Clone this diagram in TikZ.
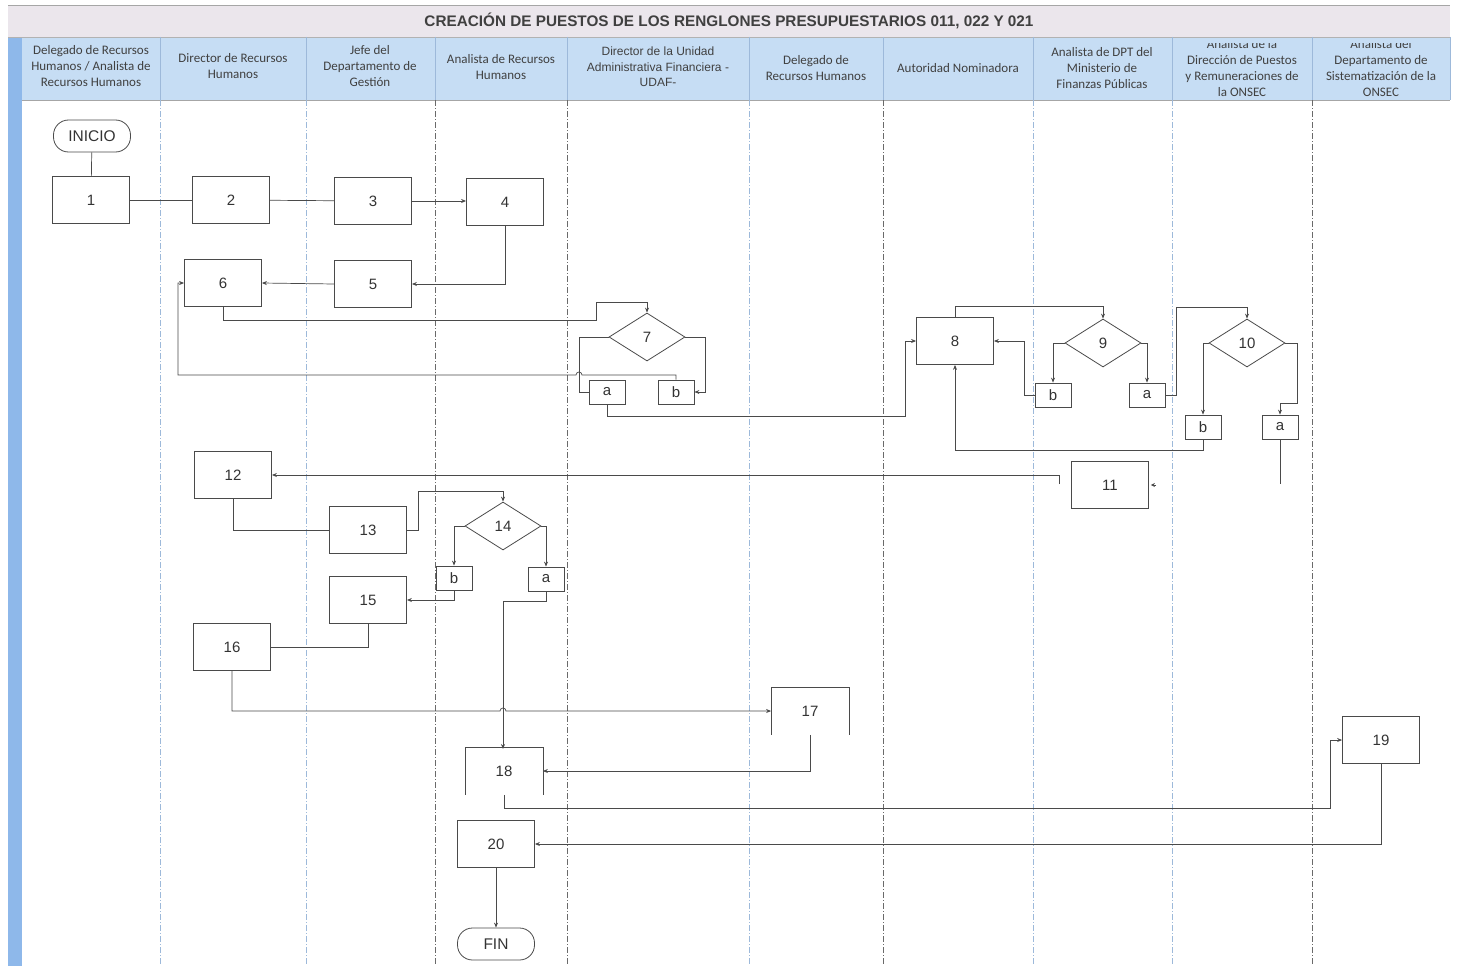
\documentclass[tikz,border=0pt]{standalone}
\usepackage{fontspec}
\setmainfont{Liberation Sans}
\newfontfamily\hdrfont{Carlito}
\usetikzlibrary{arrows.meta,shapes.geometric}
\definecolor{hdrblue}{HTML}{C6DDF4}
\definecolor{titlebg}{HTML}{EBE6EC}
\definecolor{stripe}{HTML}{8EB8EA}
\definecolor{lncol}{HTML}{4A4A4A}
\definecolor{txtcol}{HTML}{333333}
\definecolor{hdrtxt}{HTML}{404040}
\definecolor{sepblue}{HTML}{9DB9DA}
\definecolor{sepgray}{HTML}{6A6A6A}
\begin{document}
\begin{tikzpicture}[x=1pt,y=-1pt,
  proc/.style={draw=lncol, line width=0.8pt, minimum width=77pt, minimum height=47pt, inner sep=0pt, font=\fontsize{15}{17}\selectfont, text=txtcol},
  openproc/.style={proc, draw=none},
  opt/.style={draw=lncol, line width=0.8pt, minimum width=36pt, minimum height=24pt, inner sep=0pt, font=\fontsize{15}{17}\selectfont, text=txtcol},
  dec/.style={diamond, draw=lncol, line width=0.8pt, minimum width=76pt, minimum height=48pt, inner sep=0pt, font=\fontsize{15}{17}\selectfont, text=txtcol},
  term/.style={draw=lncol, line width=0.8pt, rounded corners=15pt, minimum width=77pt, minimum height=32pt, inner sep=0pt, font=\fontsize{15.5}{17}\selectfont, text=txtcol},
  hdr/.style={align=center, font=\hdrfont\fontsize{13}{16}\selectfont, text=hdrtxt},
  conn/.style={draw=lncol, line width=0.7pt},
  arr/.style={conn, -{Stealth[length=5pt,width=4pt]}},
  lanesep/.style={line width=0.6pt, dash pattern=on 6pt off 2pt on 1pt off 2pt},
]
\useasboundingbox (0,0) rectangle (1459,966);
% backgrounds
\fill[titlebg] (8,5) rectangle (1450,37);
\draw[gray!70, line width=0.6pt] (8,5) -- (1450,5);
\fill[hdrblue] (22,37) rectangle (1450,100);
\fill[stripe] (8,37) rectangle (22,966);
\draw[gray!60, line width=0.6pt] (8,37) -- (1450,37);
\draw[gray!70, line width=0.8pt] (22,100) -- (1450,100);
\node[font=\bfseries\fontsize{15.3}{17}\selectfont, text=hdrtxt] (title) at (729,21) {CREACIÓN DE PUESTOS DE LOS RENGLONES PRESUPUESTARIOS 011, 022 Y 021};
% lane separators
\foreach \x in {160,306,749,1033,1172} {
  \draw[sepblue, line width=0.6pt] (\x,37) -- (\x,100);
  \draw[sepblue, lanesep] (\x,100) -- (\x,966);
}
\foreach \x in {435,567,883,1312} {
  \draw[sepblue, line width=0.6pt] (\x,37) -- (\x,100);
  \draw[sepgray, lanesep] (\x,100) -- (\x,966);
}
\draw[sepblue, line width=0.6pt] (1450,37) -- (1450,100);
% header texts
\node[hdr] (h1) at (91,66) {Delegado de Recursos\\Humanos / Analista de\\Recursos Humanos};
\node[hdr] (h2) at (233,66) {Director de Recursos\\Humanos};
\node[hdr] (h3) at (370,66) {Jefe del\\Departamento de\\Gestión};
\node[hdr] (h4) at (501,67) {Analista de Recursos\\Humanos};
\node[align=center, font=\fontsize{12}{15.5}\selectfont, text=hdrtxt] (h5) at (658,67) {Director de la Unidad\\Administrativa Financiera -\\UDAF-};
\node[hdr] (h6) at (816,68) {Delegado de\\Recursos Humanos};
\node[hdr] (h7) at (958,68) {Autoridad Nominadora};
\node[hdr] (h8) at (1102,68) {Analista de DPT del\\Ministerio de\\Finanzas Públicas};
\begin{scope}
\clip (1172,44) rectangle (1450,100);
\node[hdr] (h9) at (1242,68) {Analista de la\\Dirección de Puestos\\y Remuneraciones de\\la ONSEC};
\node[hdr] (h10) at (1381,68) {Analista del\\Departamento de\\Sistematización de la\\ONSEC};
\end{scope}
% nodes
\node[term] (inicio) at (92,136) {INICIO};
\node[proc] (n1) at (91,200) {1};
\node[proc] (n2) at (231,200) {2};
\node[proc] (n3) at (373,201) {3};
\node[proc] (n4) at (505,202) {4};
\node[proc] (n5) at (373,284) {5};
\node[proc] (n6) at (223,283) {6};
\node[dec] (d7) at (647,337) {7};
\node[opt] (o7a) at (607,392) {a};
\node[opt] (o7b) at (676,392) {b};
\node[proc] (n8) at (955,341) {8};
\node[dec] (d9) at (1103,343) {9};
\node[opt] (o9b) at (1053,395) {b};
\node[opt] (o9a) at (1147,395) {a};
\node[dec] (d10) at (1247,343) {10};
\node[opt] (o10b) at (1203,427) {b};
\node[opt] (o10a) at (1280,427) {a};
\node[proc] (n11) at (1110,485) {11};
\node[proc] (n12) at (233,475) {12};
\node[proc] (n13) at (368,530) {13};
\node[dec] (d14) at (503,526) {14};
\node[opt] (o14b) at (454,578) {b};
\node[opt] (o14a) at (546,579) {a};
\node[proc] (n15) at (368,600) {15};
\node[proc] (n16) at (232,647) {16};
\node[openproc] (n17) at (810,711) {17};
\node[openproc] (n18) at (504,771) {18};
\node[proc] (n19) at (1381,740) {19};
\node[proc] (n20) at (496,844) {20};
\node[term] (fin) at (496,944) {FIN};
\draw[lncol, line width=0.8pt] (n17.south west) -- (n17.north west) -- (n17.north east) -- (n17.south east);
\draw[lncol, line width=0.8pt] (n18.south west) -- (n18.north west) -- (n18.north east) -- (n18.south east);
% connectors
\draw[conn] (inicio) -- (n1);
\draw[conn] (n1) -- (n2);
\draw[conn] (n2) -- (n3);
\draw[arr] (n3.east) -- (n3.east -| n4.west);
\draw[arr] (n4.south) |- (n5.east);
\draw[arr] (n5.west) -- (n6.east);
\draw[arr] (n6.south) |- (596,320) -- (596,302) -| (d7.north);
\draw[conn] (d7.west) -| (579,392) -- (o7a.west);
\draw[arr] (d7.east) -| (705,392) -- (o7b.east);
\draw[arr] (o7b.north) -- (676,375) -- (582,375) arc[start angle=0, end angle=-180, radius=3] -- (178,375) |- (n6.west);
\draw[arr] (o7a.south) |- (905,416) |- (n8.west);
\draw[arr] (n8.north) |- (1103,306) -- (d9.north);
\draw[arr] (d9.west) -| (o9b.north);
\draw[arr] (d9.east) -| (o9a.north);
\draw[arr] (o9b.west) -- (1024,395) |- (n8.east);
\draw[arr] (o9a.east) -- (1176,395) |- (1247,307) -- (d10.north);
\draw[arr] (d10.west) -| (o10b.north);
\draw[arr] (d10.east) -| (1297,403) -| (o10a.north);
\draw[arr] (o10b.south) |- (955,450) -- (n8.south);
\coordinate (e10a) at (1280,484);
\draw[conn] (o10a.south) -- (e10a);
\coordinate (t11) at (1156,485);
\draw[lncol, line width=0.6pt, -{Stealth[length=4pt,width=4pt]}] (t11) -- ([xshift=2pt]n11.east);
\coordinate (s11) at (1059,484);
\draw[arr] (s11) |- (n12.east);
\draw[conn] (n12.south) |- (n13.west);
\draw[arr] (n13.east) -| (418,491) -| (d14.north);
\draw[arr] (d14.west) -| (o14b.north);
\draw[arr] (d14.east) -| (o14a.north);
\draw[arr] (o14b.south) |- (n15.east);
\draw[arr] (o14a.south) |- (503,601) -- (503,749);
\draw[conn] (n15.south) |- (n16.east);
\draw[arr] (n16.south) |- (500,711) arc[start angle=180, end angle=360, radius=3] -- (n17.west);
\draw[arr] (n17.south) |- (n18.east);
\draw[arr] (n18.south) |- (1330,808) |- (n19.west);
\draw[arr] (n19.south) |- (n20.east);
\draw[arr] (n20.south) -- (fin.north);
\end{tikzpicture}
\end{document}
